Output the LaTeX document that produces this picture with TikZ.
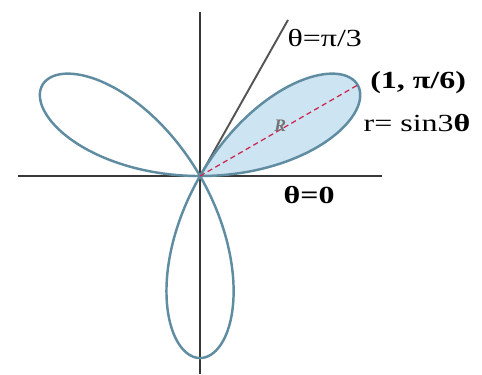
\documentclass[tikz,border=0pt]{standalone}
\usepackage{fontspec}
\setmainfont{Liberation Serif}
\definecolor{lepest}{RGB}{95,140,160}
\definecolor{zalivka}{RGB}{205,228,242}
\definecolor{osi}{RGB}{55,55,55}
\definecolor{krasny}{RGB}{205,35,75}
\tikzset{
  metka/.style={font=\fontsize{14}{16}\selectfont, xscale=1.3, inner sep=0pt},
}
\begin{document}
\begin{tikzpicture}[scale=3.64]

    % Рамка рисунка
    \useasboundingbox (-1.099,-1.088) rectangle (1.549,0.967);

    % Закрашенный лепесток (от 0 до pi/3)
    \fill[zalivka] plot[domain=0:60, samples=120, smooth] (\x:{sin(3*\x)}) -- cycle;

    % Оси
    \coordinate (O) at (0,0);
    \coordinate (xl) at (-1.0,0);
    \coordinate (xr) at (1.0,0);
    \coordinate (yt) at (0,0.90);
    \coordinate (yb) at (0,-1.088);
    \draw[osi, line width=1.6pt] (xl) -- (xr);
    \draw[osi, line width=1.6pt] (yt) -- (yb);

    % Луч theta = pi/3
    \coordinate (L) at (60.6:0.984);
    \draw[osi!85, line width=1.1pt] (O) -- (L);

    % Роза r = sin 3 theta
    \draw[lepest, line width=1.4pt] plot[domain=0:180, samples=360, smooth] (\x:{sin(3*\x)});

    % Радиус до точки (1, pi/6)
    \coordinate (P) at (30:1);
    \draw[krasny, densely dashed, line width=0.7pt] (O) -- (P);
    \node[text=gray!90!black, font=\itshape\bfseries, inner sep=0pt] (R) at (0.44,0.275) {R};

    % Подписи
    \node[metka, anchor=west] (t3) at (0.478,0.758) {θ=π/3};
    \node[metka, font=\fontsize{14}{16}\selectfont\bfseries] (pt) at (1.198,0.516) {(1, π/6)};
    \node[metka] (eq) at (1.192,0.291) {r= sin3\textbf{θ}};
    \node[metka, font=\fontsize{14}{16}\selectfont\bfseries] (t0) at (0.599,-0.104) {θ=0};

\end{tikzpicture}
\end{document}
